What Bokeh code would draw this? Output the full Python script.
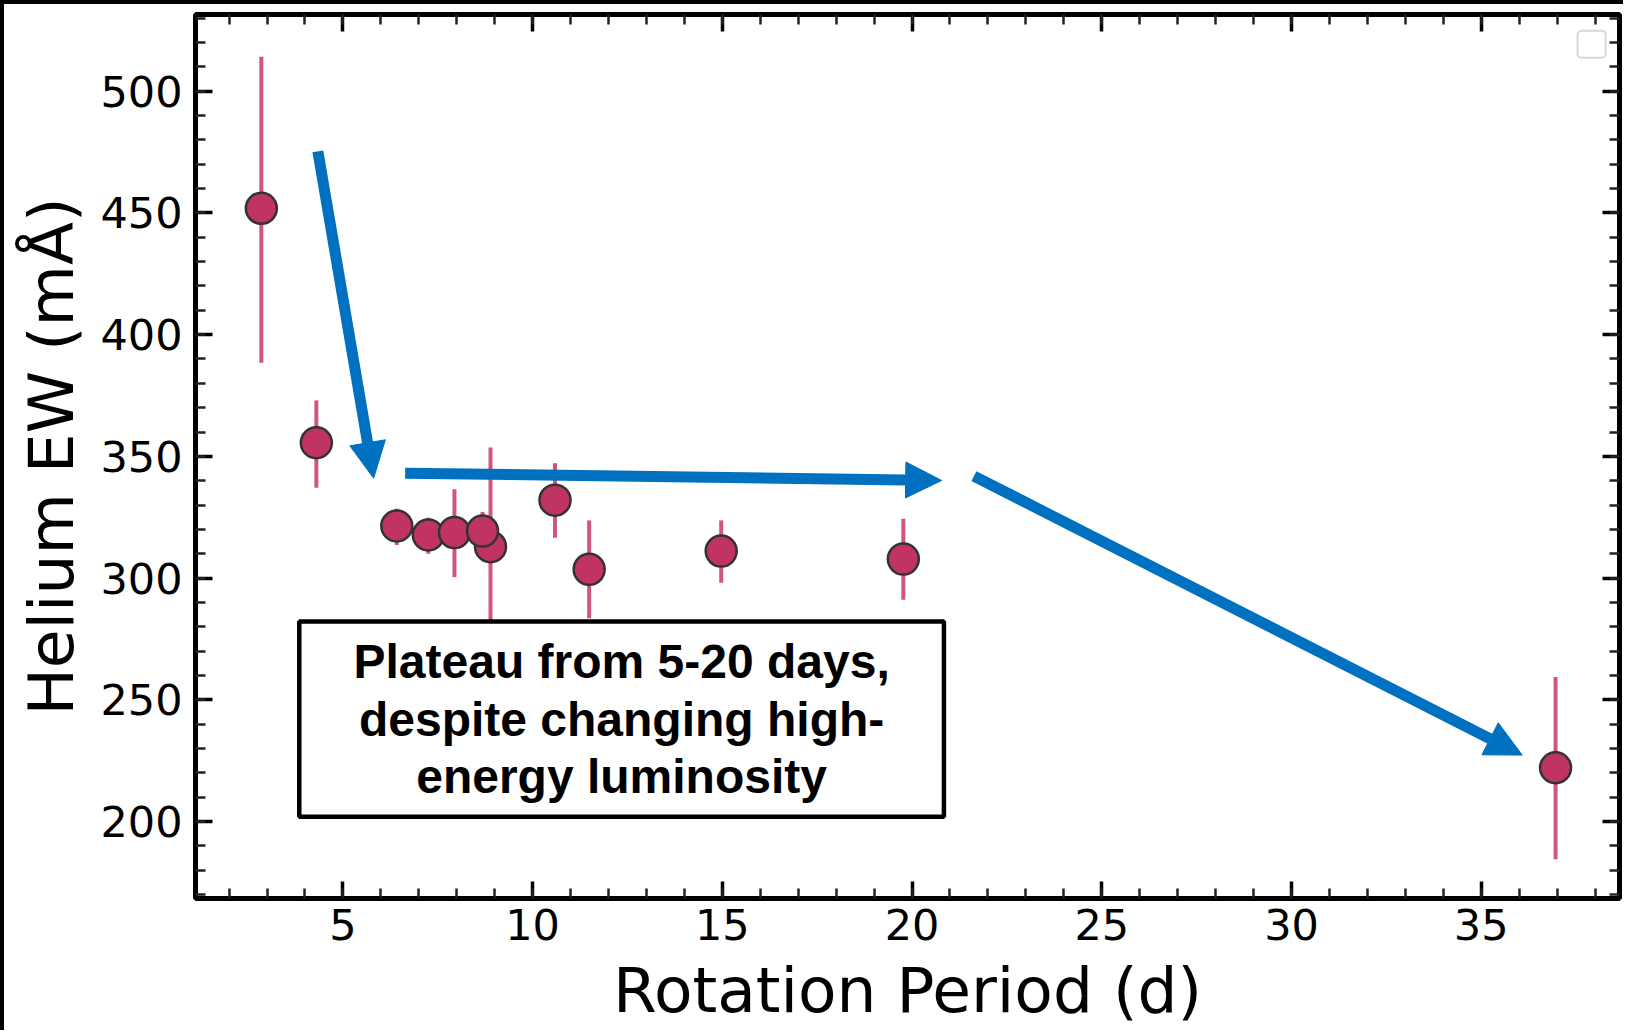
from bokeh.plotting import figure
from bokeh.models import (Range1d, SingleIntervalTicker, LinearAxis, Arrow, NormalHead,
                          BoxAnnotation, Label, ColumnDataSource)
from bokeh.embed import file_html
from bokeh.resources import INLINE

# ---- data ----
rotation_period = [2.85, 4.30, 6.42, 7.25, 7.94, 8.89, 8.68, 10.59, 11.49, 14.97, 19.77, 36.96]
helium_ew = [451.9, 355.6, 321.4, 317.7, 318.7, 312.9, 319.3, 332.0, 303.6, 311.1, 307.8, 222.1]
ew_upper = [514.1, 373.0, 328.5, 324.8, 336.5, 353.6, 327.2, 347.2, 323.7, 323.7, 324.4, 259.4]
ew_lower = [388.5, 337.1, 313.6, 310.0, 300.4, 272.0, 311.0, 316.6, 283.5, 298.1, 291.1, 184.5]

# annotation arrows (data coordinates)
arrow_x_start = [4.34, 6.64, 21.63]
arrow_y_start = [475.3, 343.1, 341.9]
arrow_x_end = [5.81, 20.78, 36.08]
arrow_y_end = [341.0, 340.1, 227.3]

note_text = "Plateau from 5-20 days,\ndespite changing high-\nenergy luminosity"
note_left, note_right, note_bottom, note_top = 3.85, 20.84, 202.0, 282.2

x_label = "Rotation Period (d)"
y_label = "Helium EW (mÅ)"

# ---- figure ----
p = figure(width=1623, height=1030, output_backend="svg", toolbar_location=None,
           x_range=Range1d(1.115, 38.645), y_range=Range1d(168.4, 531.5),
           min_border_left=191, min_border_right=8, min_border_top=10, min_border_bottom=136,
           x_axis_type=None, y_axis_type=None)
p.styles = {"border-top": "4px solid black", "border-left": "4px solid black"}
p.background_fill_color = "white"
p.border_fill_color = "white"
p.xgrid.visible = False
p.ygrid.visible = False
p.outline_line_color = "black"
p.outline_line_width = 5

xt = SingleIntervalTicker(interval=5, num_minor_ticks=5)
yt = SingleIntervalTicker(interval=50, num_minor_ticks=5)

def style(ax, show_labels):
    ax.axis_line_color = None
    ax.major_tick_in = 17
    ax.major_tick_out = 0
    ax.minor_tick_in = 10
    ax.minor_tick_out = 0
    ax.major_tick_line_width = 3.5
    ax.minor_tick_line_width = 2.5
    ax.major_tick_line_color = "black"
    ax.minor_tick_line_color = "#222222"
    if show_labels:
        ax.major_label_text_font = "DejaVu Sans"
        ax.major_label_text_font_size = "43px"
        ax.major_label_text_color = "black"
        ax.axis_label_text_font = "DejaVu Sans"
        ax.axis_label_text_font_size = "63px"
        ax.axis_label_text_font_style = "normal"
        ax.axis_label_text_color = "black"
    else:
        ax.major_label_text_font_size = "1px"
        ax.major_label_text_color = None
        ax.major_label_standoff = 0

xb = LinearAxis(ticker=xt, axis_label=x_label)
style(xb, True)
xb.major_label_standoff = 10
xb.axis_label_standoff = 11
p.add_layout(xb, "below")

yl = LinearAxis(ticker=yt, axis_label=y_label)
style(yl, True)
yl.major_label_standoff = 13
yl.axis_label_standoff = 9
p.add_layout(yl, "left")

xa = LinearAxis(ticker=xt)
style(xa, False)
p.add_layout(xa, "above")
yr = LinearAxis(ticker=yt)
style(yr, False)
p.add_layout(yr, "right")

src = ColumnDataSource(dict(x=rotation_period, y=helium_ew, hi=ew_upper, lo=ew_lower))
p.segment(x0="x", y0="lo", x1="x", y1="hi", source=src, line_color="#C8386A",
          line_alpha=0.85, line_width=4)
p.scatter(x="x", y="y", source=src, size=31, fill_color="#C03362",
          line_color="#333333", line_width=2.5)

# empty legend frame (top-right)
p.add_layout(BoxAnnotation(left=37.54, right=38.28, bottom=513.7, top=524.8,
                           fill_color="white", fill_alpha=1, line_color="#D8D8D8",
                           line_alpha=1, line_width=2, border_radius=4))

blue = "#0070C0"
asrc = ColumnDataSource(dict(x0=arrow_x_start, y0=arrow_y_start, x1=arrow_x_end, y1=arrow_y_end))
p.add_layout(Arrow(x_start="x0", y_start="y0", x_end="x1", y_end="y1", source=asrc,
                   line_color=blue, line_width=11,
                   end=NormalHead(size=36, fill_color=blue, line_color=blue, line_width=1)))

p.add_layout(BoxAnnotation(left=note_left, right=note_right, bottom=note_bottom, top=note_top,
                           fill_color="white", fill_alpha=1, line_color="black",
                           line_alpha=1, line_width=4.5))
p.add_layout(Label(x=(note_left + note_right) / 2, y=(note_bottom + note_top) / 2,
                   text=note_text, text_align="center", text_baseline="middle",
                   text_font="Liberation Sans", text_font_style="bold",
                   text_font_size="48px", text_line_height=1.077, text_color="black"))

open("out.html", "w").write(file_html(p, INLINE))
